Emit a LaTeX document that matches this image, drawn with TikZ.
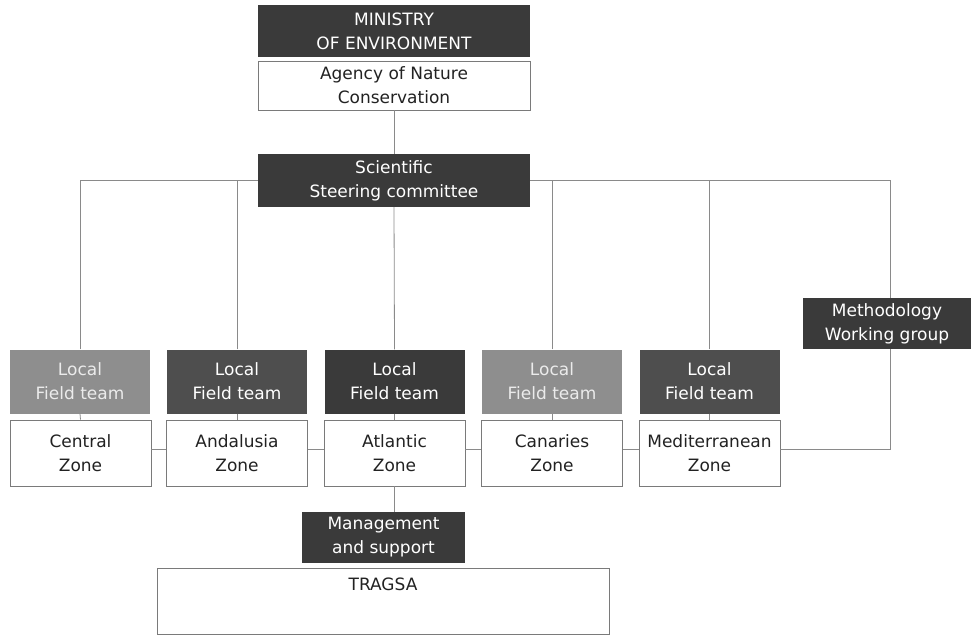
\documentclass[tikz,border=0pt]{standalone}
\usepackage{fontspec}
\setmainfont{DejaVu Sans}
\definecolor{darkbox}{HTML}{3A3A3A}
\definecolor{midbox}{HTML}{4E4E4E}
\definecolor{lightbox}{HTML}{8E8E8E}
\definecolor{linegray}{HTML}{8A8A8A}
\definecolor{bordergray}{HTML}{7A7A7A}
\definecolor{txtdark}{HTML}{222222}
\tikzset{
  base/.style={rectangle, inner sep=0pt, align=center, font=\fontsize{17}{24}\selectfont},
  darkbox/.style={base, fill=darkbox, text=white},
  midbox/.style={base, fill=midbox, text=white},
  lightbox/.style={base, fill=lightbox, text=white!92!black},
  whitebox/.style={base, fill=white, draw=bordergray, line width=0.8pt, text=txtdark},
  conn/.style={draw=linegray, line width=0.8pt},
  localsz/.style={minimum width=140pt, minimum height=64pt},
  zonesz/.style={minimum width=141pt, minimum height=66pt},
  topsz/.style={minimum width=272pt}
}
\begin{document}
\begin{tikzpicture}[x=1pt,y=-1pt]
\useasboundingbox (0,0) rectangle (973,635);
% top
\node[darkbox, topsz, minimum height=52pt] (min) at (394,31) {MINISTRY\\OF ENVIRONMENT};
\node[whitebox, topsz, minimum height=49pt] (agency) at (394,85.5) {Agency of Nature\\Conservation};
\node[darkbox, topsz, minimum height=53pt] (sci) at (394,180.5) {Scientific\\Steering committee};
% local field teams
\node[lightbox, localsz] (l1) at (80,381.5) {Local\\Field team};
\node[midbox, localsz] (l2) at (237,381.5) {Local\\Field team};
\node[darkbox, localsz] (l3) at (394.5,381.5) {Local\\Field team};
\node[lightbox, localsz] (l4) at (552,381.5) {Local\\Field team};
\node[midbox, localsz] (l5) at (709.5,381.5) {Local\\Field team};
% zones
\node[whitebox, zonesz] (z1) at (80.5,453) {Central\\Zone};
\node[whitebox, zonesz] (z2) at (237,453) {Andalusia\\Zone};
\node[whitebox, zonesz] (z3) at (394.5,453) {Atlantic\\Zone};
\node[whitebox, zonesz] (z4) at (552,453) {Canaries\\Zone};
\node[whitebox, zonesz] (z5) at (709.5,453) {Mediterranean\\Zone};
% methodology
\node[darkbox, minimum width=168pt, minimum height=51pt] (meth) at (887,323.5) {Methodology\\Working group};
% management
\node[darkbox, minimum width=163pt, minimum height=51pt] (mgmt) at (383.5,537.5) {Management\\and support};
\node[whitebox, minimum width=452pt, minimum height=66pt,
  label={[base, text=txtdark, anchor=north, yshift=-10pt]north:TRAGSA}] (tragsa) at (383,601) {};
% connectors
\path[conn] (agency.south) -- (sci.north);
\path[conn] (l1.north) |- (sci.west);
\path[conn] (l2.north) |- (sci.west);
\path[conn] (sci.south) -- (l3.north);
\path[conn] (l4.north) |- (sci.east);
\path[conn] (l5.north) |- (sci.east);
\path[conn] (sci.east) -| ([xshift=3pt]meth.north);
\path[conn] (l1.south) -- (z1.north);
\path[conn] (l2.south) -- (z2.north);
\path[conn] (l3.south) -- (z3.north);
\path[conn] (l4.south) -- (z4.north);
\path[conn] (l5.south) -- (z5.north);
\path[conn] ([yshift=4pt]z1.east) -- ([yshift=4pt]z2.west);
\path[conn] ([yshift=4pt]z2.east) -- ([yshift=4pt]z3.west);
\path[conn] ([yshift=4pt]z3.east) -- ([yshift=4pt]z4.west);
\path[conn] ([yshift=4pt]z4.east) -- ([yshift=4pt]z5.west);
\path[conn] ([yshift=4pt]z5.east) -| ([xshift=3pt]meth.south);
\path[conn] (z3.south) -- (z3.south |- mgmt.north);
\end{tikzpicture}
\end{document}
